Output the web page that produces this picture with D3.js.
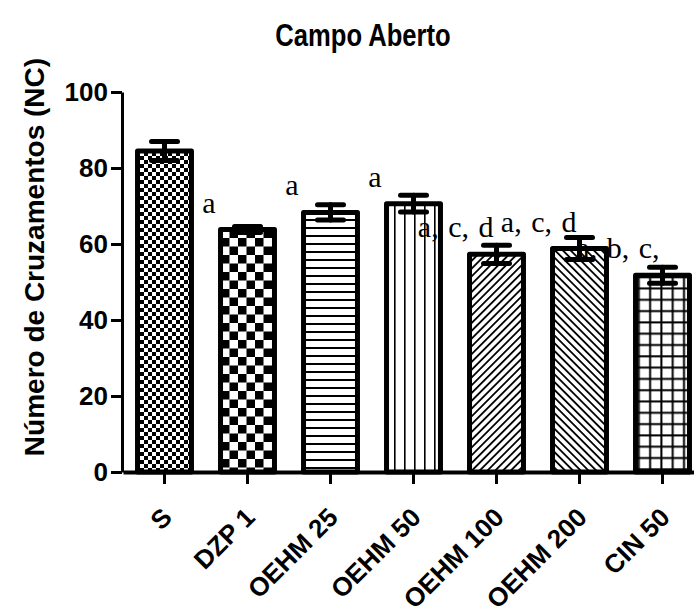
<!DOCTYPE html>
<html>
<head>
<meta charset="utf-8">
<script src="https://cdn.jsdelivr.net/npm/d3@7"></script>
<style>
  body { margin: 0; background: #fff; }
  svg { display: block; }
  .axis text { font-family: 'Liberation Sans', Arial, sans-serif; font-weight: bold; fill: #000; }
</style>
</head>
<body>
<svg id="chart" width="694" height="610"></svg>
<script>
// data
const categories = ['S', 'DZP 1', 'OEHM 25', 'OEHM 50', 'OEHM 100', 'OEHM 200', 'CIN 50']
const means = [84.5, 63.8, 68.3, 70.6, 57.3, 58.8, 51.8]
const sems = [2.5, 0.8, 2.0, 2.2, 2.4, 2.9, 2.1]
const letters = ['', 'a', 'a', 'a', 'a, c, d', 'a, c, d', 'a, b, c,']
const yTicks = [0, 20, 40, 60, 80, 100]
const patterns = ['checkSmall', 'checkBig', 'hlines', 'vlines', 'diagUp', 'diagDown', 'grid']

const svg = d3.select('#chart')
const defs = svg.append('defs')

const pat = (id, w, h, transform) => {
  const p = defs.append('pattern')
    .attr('id', id)
    .attr('patternUnits', 'userSpaceOnUse')
    .attr('width', w)
    .attr('height', h)
  if (transform) p.attr('patternTransform', transform)
  p.append('rect').attr('width', w).attr('height', h).attr('fill', '#fff')
  return p
}

let p = pat('checkSmall', 8, 8)
p.append('rect').attr('width', 4).attr('height', 4).attr('fill', '#000')
p.append('rect').attr('x', 4).attr('y', 4).attr('width', 4).attr('height', 4).attr('fill', '#000')

p = pat('checkBig', 17, 17)
p.append('rect').attr('width', 8.5).attr('height', 8.5).attr('fill', '#000')
p.append('rect').attr('x', 8.5).attr('y', 8.5).attr('width', 8.5).attr('height', 8.5).attr('fill', '#000')

p = pat('hlines', 8, 8)
p.append('rect').attr('y', 3).attr('width', 8).attr('height', 2).attr('fill', '#000')

p = pat('vlines', 10, 10)
p.append('rect').attr('x', 4).attr('width', 1.6).attr('height', 10).attr('fill', '#000')

p = pat('diagUp', 5.5, 5.5, 'rotate(45)')
p.append('rect').attr('width', 1.8).attr('height', 5.5).attr('fill', '#000')

p = pat('diagDown', 5.5, 5.5, 'rotate(-45)')
p.append('rect').attr('width', 1.8).attr('height', 5.5).attr('fill', '#000')

p = pat('grid', 11.3, 11.3)
p.append('rect').attr('x', 5).attr('width', 2).attr('height', 11.3).attr('fill', '#000')
p.append('rect').attr('y', 5).attr('width', 11.3).attr('height', 2).attr('fill', '#000')

const x = d3.scaleBand()
  .domain(categories)
  .range([123, 704])
  .paddingInner(0.35)
  .paddingOuter(0.175)

const y = d3.scaleLinear().domain([0, 100]).range([472, 92])

// title
svg.append('text')
  .attr('transform', 'translate(363,46) scale(0.8,1)')
  .attr('text-anchor', 'middle')
  .style('font-family', "'Liberation Sans', Arial, sans-serif")
  .style('font-weight', 'bold')
  .style('font-size', '32px')
  .text('Campo Aberto')

// y label
svg.append('text')
  .attr('transform', 'translate(44,257) rotate(-90)')
  .attr('text-anchor', 'middle')
  .style('font-family', "'Liberation Sans', Arial, sans-serif")
  .style('font-weight', 'bold')
  .style('font-size', '28px')
  .text('Número de Cruzamentos (NC)')

// bars
const bw = x.bandwidth()
svg.append('g').selectAll('rect')
  .data(categories)
  .join('rect')
  .attr('x', d => x(d))
  .attr('y', (d, i) => y(means[i]))
  .attr('width', bw)
  .attr('height', (d, i) => y(0) - y(means[i]))
  .attr('fill', (d, i) => `url(#${patterns[i]})`)
  .attr('stroke', '#000')
  .attr('stroke-width', 5)
  .attr('stroke-linejoin', 'round')

// error bars
const eb = svg.append('g')
  .attr('stroke', '#000')
  .attr('stroke-width', 5)
  .attr('stroke-linecap', 'round')
categories.forEach((c, i) => {
  const cx = x(c) + bw / 2
  const hi = y(means[i] + sems[i])
  const lo = y(means[i] - sems[i])
  eb.append('line').attr('x1', cx).attr('x2', cx).attr('y1', hi).attr('y2', lo)
  eb.append('line').attr('x1', cx - 13).attr('x2', cx + 13).attr('y1', hi).attr('y2', hi)
  eb.append('line').attr('x1', cx - 13).attr('x2', cx + 13).attr('y1', lo).attr('y2', lo)
})

// significance letters
svg.append('g').selectAll('text')
  .data(categories)
  .join('text')
  .attr('x', (d, i) => letters[i].length > 1 ? x(d) + bw / 2 - 3 : x(d) - 5)
  .attr('y', (d, i) => y(means[i]) - 17)
  .attr('text-anchor', 'end')
  .style('font-family', "'Liberation Serif', 'Times New Roman', serif")
  .style('font-size', '30px')
  .style('word-spacing', '2px')
  .text((d, i) => letters[i])

// axes
const yAxis = svg.append('g')
  .attr('class', 'axis')
  .attr('transform', 'translate(122,0)')
  .call(d3.axisLeft(y).tickValues(yTicks).tickSize(11).tickPadding(3).tickSizeOuter(0))
yAxis.selectAll('path, line').attr('stroke', '#000').attr('stroke-width', 3)
yAxis.selectAll('text').style('font-size', '26px')

const xAxis = svg.append('g')
  .attr('class', 'axis')
  .attr('transform', `translate(0,${y(0)})`)
  .call(d3.axisBottom(x).tickSize(12).tickSizeOuter(0))
xAxis.select('.domain').attr('stroke', '#000').attr('stroke-width', 4)
xAxis.selectAll('line').attr('stroke', '#000').attr('stroke-width', 3)
xAxis.selectAll('text')
  .style('font-size', '26px')
  .attr('text-anchor', 'end')
  .attr('dy', '0.35em')
  .attr('transform', 'translate(-8,30) rotate(-45)')
</script>
</body>
</html>
